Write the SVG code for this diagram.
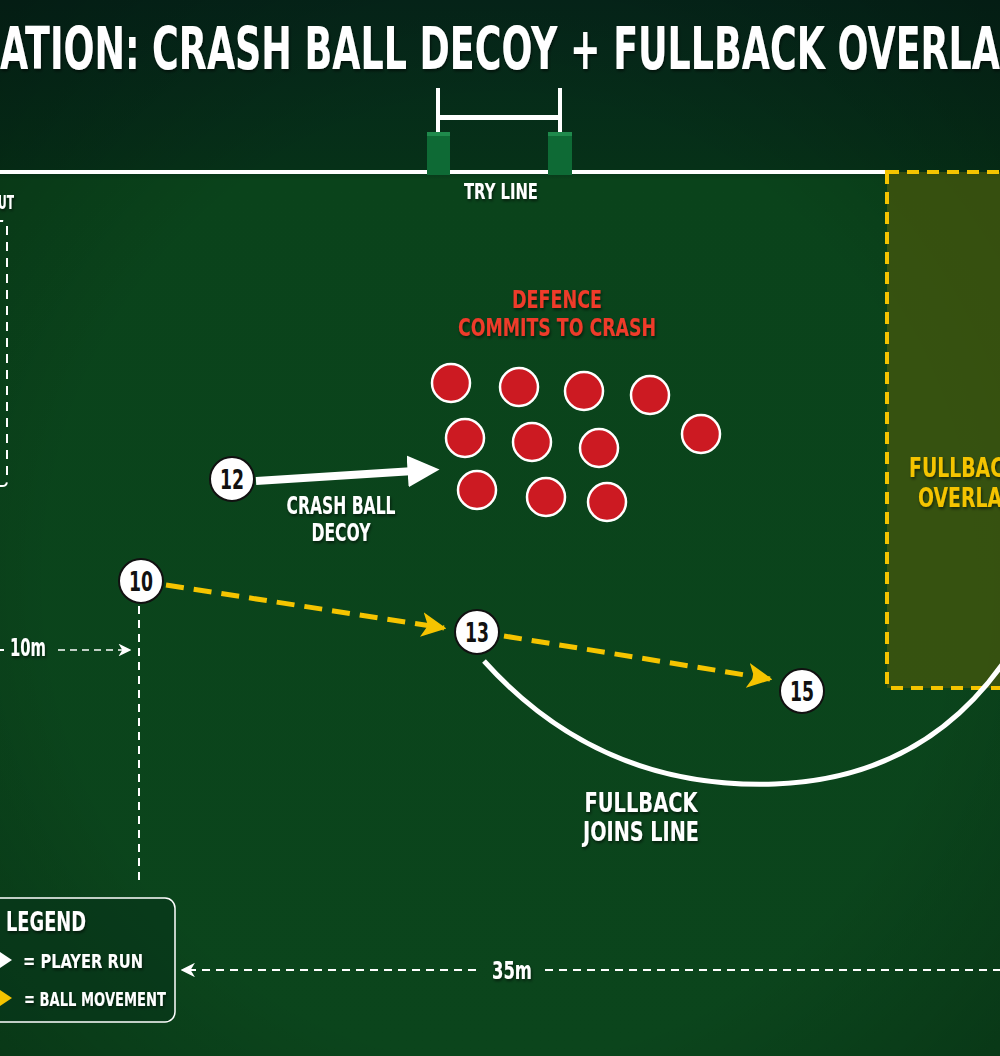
<svg xmlns="http://www.w3.org/2000/svg" width="1000" height="1056" viewBox="0 0 1000 1056">
<defs>
<linearGradient id="bg" x1="0" y1="0" x2="0" y2="1">
<stop offset="0" stop-color="#05261a"/>
<stop offset="0.16" stop-color="#063118"/>
<stop offset="0.17" stop-color="#0a431b"/>
<stop offset="1" stop-color="#0b451c"/>
</linearGradient>
<radialGradient id="vig" cx="0.5" cy="0.55" r="0.75">
<stop offset="0.6" stop-color="#000" stop-opacity="0"/>
<stop offset="1" stop-color="#000" stop-opacity="0.25"/>
</radialGradient>
<filter id="sh" x="-10%" y="-30%" width="120%" height="160%">
<feDropShadow dx="1" dy="2" stdDeviation="1.5" flood-color="#000" flood-opacity="0.55"/>
</filter>
<marker id="ya" viewBox="0 0 10 10" refX="9" refY="5" markerWidth="5" markerHeight="5" orient="auto" markerUnits="strokeWidth">
<path d="M0,0 L10,5 L0,10 L2.5,5 Z" fill="#f5c400"/>
</marker>
<marker id="wa" viewBox="0 0 10 10" refX="2" refY="5" markerWidth="4" markerHeight="4.5" orient="auto" markerUnits="strokeWidth">
<path d="M0,0 L10,5 L0,10 Z" fill="#fff"/>
</marker>
<marker id="da" viewBox="0 0 10 10" refX="9" refY="5" markerWidth="8" markerHeight="8" orient="auto" markerUnits="strokeWidth">
<path d="M0,0 L10,5 L0,10 L3,5 Z" fill="#fff"/>
</marker>
</defs>
<style>
.t{font-family:"DejaVu Sans Condensed","DejaVu Sans",sans-serif;font-weight:bold;fill:#fff;}
.num{font-family:"DejaVu Sans Condensed","DejaVu Sans",sans-serif;font-weight:bold;fill:#111;font-size:27px;text-anchor:middle;}
.pl{fill:#fff;stroke:#111;stroke-width:2;}
.df{fill:#cc1a22;stroke:#fff;stroke-width:2.5;}
.ball{fill:none;stroke:#f5c400;stroke-width:5;stroke-dasharray:18 10;}
.dim{fill:none;stroke:#fff;stroke-width:2;stroke-dasharray:8 6;}
</style>
<rect width="1000" height="1056" fill="url(#bg)"/>
<rect width="1000" height="1056" fill="url(#vig)"/>

<g id="title">
<text class="t" x="0" y="69" font-size="58" textLength="1000" lengthAdjust="spacingAndGlyphs" filter="url(#sh)">ATION: CRASH BALL DECOY + FULLBACK OVERLA</text>
</g>

<g id="goalposts">
<rect x="436" y="88" width="4" height="46" fill="#fff"/>
<rect x="558" y="88" width="4" height="46" fill="#fff"/>
<rect x="438" y="115" width="122" height="5" fill="#fff"/>
<line x1="0" y1="172" x2="887" y2="172" stroke="#fff" stroke-width="4"/>
<rect x="427" y="132" width="23" height="43" fill="#0e6a35"/>
<rect x="427" y="132" width="23" height="4" fill="#1f8a4c"/>
<rect x="548" y="132" width="24" height="43" fill="#0e6a35"/>
<rect x="548" y="132" width="24" height="4" fill="#1f8a4c"/>
<text class="t" x="501" y="199" font-size="21" text-anchor="middle" textLength="74" lengthAdjust="spacingAndGlyphs" filter="url(#sh)">TRY LINE</text>
</g>

<g id="lineout-zone">
<text class="t" x="-2" y="209" font-size="20" textLength="16" lengthAdjust="spacingAndGlyphs" filter="url(#sh)">UT</text>
<path d="M -6 221 H 2 Q 7 221 7 226 V 481 Q 7 486 2 486 H -6" fill="none" stroke="#fff" stroke-width="2" stroke-dasharray="9 7"/>
</g>

<g id="overlap-zone">
<rect x="887" y="172" width="130" height="516" fill="#4e5a0a" fill-opacity="0.65" stroke="#f5c400" stroke-width="4" stroke-dasharray="12 8"/>
<text class="t" x="909" y="477" font-size="27" style="fill:#f5c400" textLength="95" lengthAdjust="spacingAndGlyphs" filter="url(#sh)">FULLBAC</text>
<text class="t" x="918" y="507" font-size="27" style="fill:#f5c400" textLength="84" lengthAdjust="spacingAndGlyphs" filter="url(#sh)">OVERLA</text>
</g>

<g id="defence">
<text class="t" x="557" y="308" font-size="25" text-anchor="middle" style="fill:#ef3a2a" textLength="90" lengthAdjust="spacingAndGlyphs" filter="url(#sh)">DEFENCE</text>
<text class="t" x="557" y="336" font-size="25" text-anchor="middle" style="fill:#ef3a2a" textLength="198" lengthAdjust="spacingAndGlyphs" filter="url(#sh)">COMMITS TO CRASH</text>
<circle class="df" cx="451" cy="383" r="19"/>
<circle class="df" cx="519" cy="387" r="19"/>
<circle class="df" cx="584" cy="391" r="19"/>
<circle class="df" cx="650" cy="395" r="19"/>
<circle class="df" cx="465" cy="438" r="19"/>
<circle class="df" cx="532" cy="442" r="19"/>
<circle class="df" cx="599" cy="448" r="19"/>
<circle class="df" cx="701" cy="434" r="19"/>
<circle class="df" cx="477" cy="490" r="19"/>
<circle class="df" cx="546" cy="497" r="19"/>
<circle class="df" cx="607" cy="502" r="19"/>
</g>

<g id="connectors">
<line x1="256" y1="481" x2="414" y2="471" stroke="#fff" stroke-width="8" marker-end="url(#wa)"/>
<line x1="166" y1="585" x2="444" y2="628" class="ball" marker-end="url(#ya)"/>
<line x1="504" y1="636" x2="770" y2="679" class="ball" marker-end="url(#ya)"/>
<path d="M 484 661 Q 600 790 775 784 Q 930 778 1012 650" fill="none" stroke="#fff" stroke-width="5"/>
<line x1="139" y1="606" x2="139" y2="885" class="dim"/>
<line x1="0" y1="650" x2="4" y2="650" class="dim"/>
<line x1="58" y1="650" x2="130" y2="650" stroke="#fff" stroke-width="1.6" stroke-dasharray="7 5" marker-end="url(#da)"/>
<line x1="476" y1="970" x2="182" y2="970" stroke="#fff" stroke-width="1.8" stroke-dasharray="8 6" marker-end="url(#da)"/>
<line x1="545" y1="970" x2="1000" y2="970" stroke="#fff" stroke-width="1.8" stroke-dasharray="8 6"/>
</g>

<g id="labels">
<text class="t" x="341" y="514" font-size="24" text-anchor="middle" textLength="109" lengthAdjust="spacingAndGlyphs" filter="url(#sh)">CRASH BALL</text>
<text class="t" x="341" y="541" font-size="24" text-anchor="middle" textLength="59" lengthAdjust="spacingAndGlyphs" filter="url(#sh)">DECOY</text>
<text class="t" x="641" y="812" font-size="26" text-anchor="middle" textLength="113" lengthAdjust="spacingAndGlyphs" filter="url(#sh)">FULLBACK</text>
<text class="t" x="641" y="841" font-size="26" text-anchor="middle" textLength="116" lengthAdjust="spacingAndGlyphs" filter="url(#sh)">JOINS LINE</text>
<text class="t" x="10" y="656" font-size="24" textLength="36" lengthAdjust="spacingAndGlyphs" filter="url(#sh)">10m</text>
<text class="t" x="492" y="979" font-size="24" textLength="40" lengthAdjust="spacingAndGlyphs" filter="url(#sh)">35m</text>
</g>

<g id="p12"><circle class="pl" cx="232" cy="479" r="22"/><text class="num" x="232" y="489" textLength="24" lengthAdjust="spacingAndGlyphs">12</text></g>
<g id="p10"><circle class="pl" cx="141" cy="581" r="22"/><text class="num" x="141" y="591" textLength="24" lengthAdjust="spacingAndGlyphs">10</text></g>
<g id="p13"><circle class="pl" cx="477" cy="632" r="22"/><text class="num" x="477" y="642" textLength="24" lengthAdjust="spacingAndGlyphs">13</text></g>
<g id="p15"><circle class="pl" cx="802" cy="691" r="22"/><text class="num" x="802" y="701" textLength="24" lengthAdjust="spacingAndGlyphs">15</text></g>

<g id="legend">
<rect x="-20" y="898" width="195" height="124" rx="10" fill="#07361a" fill-opacity="0.7" stroke="#fff" stroke-width="1.5"/>
<text class="t" x="6" y="931" font-size="26" textLength="80" lengthAdjust="spacingAndGlyphs" filter="url(#sh)">LEGEND</text>
<path d="M 0 952 L 12 960 L 0 968 Z" fill="#fff"/>
<text class="t" x="23" y="968" font-size="20" textLength="120" lengthAdjust="spacingAndGlyphs" filter="url(#sh)">= PLAYER RUN</text>
<path d="M 0 990 L 12 998 L 0 1006 Z" fill="#f5c400"/>
<text class="t" x="24" y="1006" font-size="20" textLength="142" lengthAdjust="spacingAndGlyphs" filter="url(#sh)">= BALL MOVEMENT</text>
</g>
</svg>
